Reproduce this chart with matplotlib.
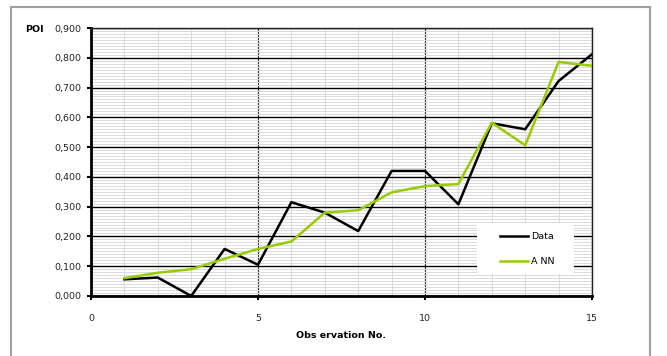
import matplotlib
matplotlib.use("Agg")
import matplotlib.pyplot as plt
from matplotlib.patches import Rectangle
from matplotlib.ticker import MultipleLocator, FuncFormatter

obs = [1, 2, 3, 4, 5, 6, 7, 8, 9, 10, 11, 12, 13, 14, 15]
data_vals = [0.056, 0.062, 0.0, 0.158, 0.105, 0.315, 0.280, 0.218, 0.420, 0.420, 0.308, 0.580, 0.560, 0.722, 0.812]
ann_vals = [0.060, 0.078, 0.090, 0.125, 0.158, 0.183, 0.280, 0.288, 0.348, 0.369, 0.376, 0.582, 0.506, 0.786, 0.773]
x_ticks = [0, 5, 10, 15]
y_ticks = [0.0, 0.1, 0.2, 0.3, 0.4, 0.5, 0.6, 0.7, 0.8, 0.9]

W, H = 667, 356
fig = plt.figure(figsize=(W / 100, H / 100), dpi=100)
fig.patches.append(Rectangle((11 / W, 0 - 0.05), (650 - 11) / W, 1 - 7 / H + 0.05,
                             transform=fig.transFigure, fill=False,
                             edgecolor="#a0a0a0", linewidth=1.5))

ax = fig.add_axes([91 / W, 1 - 296 / H, (592 - 91) / W, (296 - 28) / H])
ax.set_xlim(0, 15)
ax.set_ylim(0, 0.9)

# minor grid
ax.xaxis.set_minor_locator(MultipleLocator(1))
ax.yaxis.set_minor_locator(MultipleLocator(0.01))
ax.grid(which="minor", axis="both", color="#dadada", linewidth=0.7)
ax.grid(which="major", axis="y", color="black", linewidth=1.0)
ax.grid(which="major", axis="x", color="#404040", linewidth=0.9)
ax.set_axisbelow(True)

ax.set_xticks(x_ticks)
ax.set_yticks(y_ticks)
ax.yaxis.set_major_formatter(FuncFormatter(lambda v, p: f"{v:.3f}".replace(".", ",")))
ax.tick_params(which="minor", length=0)
ax.tick_params(which="major", direction="out", length=3, width=1.5, labelsize=6.8,
               colors="black", labelcolor="#222222", pad=4)
ax.tick_params(axis="x", pad=10)

for s in ["left", "bottom"]:
    ax.spines[s].set_linewidth(2)
for s in ["right", "top"]:
    ax.spines[s].set_linewidth(1)
    ax.spines[s].set_color("#202020")

ax.plot(obs, data_vals, color="black", linewidth=1.8, label="Data", zorder=3)
ax.plot(obs, ann_vals, color="#99cc00", linewidth=1.8, label="A NN", zorder=3)

# legend background box
ax.add_patch(Rectangle((477 / W, 1 - 274 / H), (574 - 477) / W, (274 - 223) / H,
                       transform=fig.transFigure, facecolor="white", edgecolor="none",
                       zorder=2.5))
leg = ax.legend(loc="center", bbox_to_anchor=(527 / W, 1 - 249 / H),
                bbox_transform=fig.transFigure,
                fontsize=6.8, frameon=False, handlelength=3.0, labelspacing=1.7,
                borderpad=0.0, handletextpad=0.3)

fig.text(25 / W, 1 - 30 / H, "POI", fontsize=6.8, fontweight="bold", ha="left", va="center")
fig.text(341 / W, 1 - 335 / H, "Obs ervation No.", fontsize=6.8, fontweight="bold",
         ha="center", va="center")

fig.savefig("out.png", dpi=100)
